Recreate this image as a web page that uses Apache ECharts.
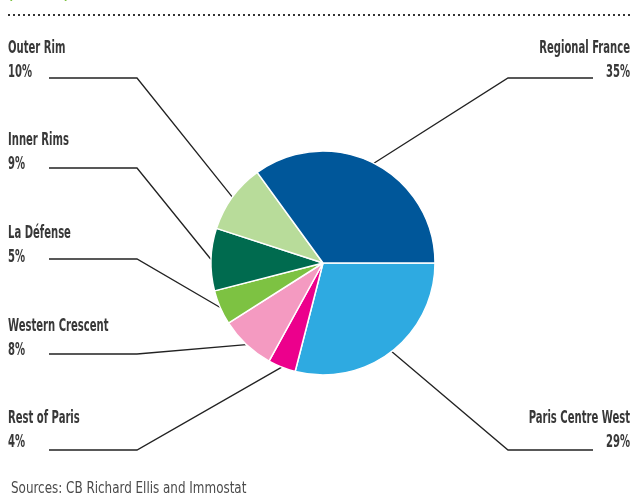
<!DOCTYPE html>
<html>
<head>
<meta charset="utf-8">
<script src="https://cdn.jsdelivr.net/npm/echarts@6/dist/echarts.min.js"></script>
<style>
  html, body { margin: 0; padding: 0; background: #fff; }
  #chart { width: 633px; height: 495px; }
</style>
</head>
<body>
<div id="chart"></div>
<script>
// Office take-up split by area (share of total, %)
const categories = ['Paris Centre West', 'Rest of Paris', 'Western Crescent', 'La Défense', 'Inner Rims', 'Outer Rim', 'Regional France'];
const shares = [29, 4, 8, 5, 9, 10, 35];
const sliceColors = ['#2eaae1', '#ec008c', '#f49ac1', '#7dc242', '#006b4f', '#b8dc9a', '#00579a'];
const sourceNote = 'Sources: CB Richard Ellis and Immostat';

// Where each label block sits and where its leader line bends / ends
const labelSpots = [
  { x: 630, y: 430, align: 'right', elbow: 508, end: 593, lineY: 450 },
  { x: 8,   y: 430, align: 'left',  elbow: 137, end: 49,  lineY: 450 },
  { x: 8,   y: 338, align: 'left',  elbow: 137, end: 49,  lineY: 354 },
  { x: 8,   y: 245, align: 'left',  elbow: 137, end: 49,  lineY: 259 },
  { x: 8,   y: 152, align: 'left',  elbow: 137, end: 49,  lineY: 168 },
  { x: 8,   y: 60,  align: 'left',  elbow: 137, end: 49,  lineY: 78 },
  { x: 630, y: 60,  align: 'right', elbow: 508, end: 593, lineY: 78 }
];

const FONT = "'DejaVu Sans Condensed', 'DejaVu Sans', sans-serif";
const LABEL_SQUEEZE = 0.62;   // horizontal squeeze for the tall, narrow label face

const chart = echarts.init(document.getElementById('chart'), null, { renderer: 'canvas' });

chart.setOption({
  animation: false,
  backgroundColor: '#ffffff',
  graphic: [
    {
      type: 'text', x: 8, y: -15, scaleX: 0.7, silent: true,
      style: { text: '(in value)', fill: '#7dc242', font: 'bold 18px ' + FONT, verticalAlign: 'top' }
    },
    {
      type: 'line', silent: true,
      shape: { x1: 8, y1: 15, x2: 631, y2: 15 },
      style: { stroke: '#333', lineWidth: 2, lineDash: [2, 3] }
    },
    {
      type: 'text', x: 11, y: 481, scaleX: 0.83, silent: true,
      style: { text: sourceNote, fill: '#4a4a4a', font: '16px ' + FONT, verticalAlign: 'top' }
    }
  ],
  series: [{
    type: 'pie',
    center: [323, 263],
    radius: 112,
    startAngle: 0,
    clockwise: true,
    avoidLabelOverlap: false,
    itemStyle: { borderColor: '#fff', borderWidth: 1.5 },
    label: {
      show: true,
      position: 'outside',
      formatter: '{b}\n{c}%',
      fontFamily: FONT,
      fontSize: 18,
      fontWeight: 'bold',
      lineHeight: 24,
      color: '#383838'
    },
    labelLine: {
      show: true,
      length: 20,
      length2: 20,
      lineStyle: { color: '#222', width: 1.3 }
    },
    labelLayout: function (p) {
      const s = labelSpots[p.dataIndex];
      const pts = p.labelLinePoints;
      const edge = pts ? [pts[0][0], pts[0][1]] : [s.elbow, s.lineY];
      return {
        x: s.x,
        y: s.y,
        align: s.align,
        verticalAlign: 'middle',
        labelLinePoints: [edge, [s.elbow, s.lineY], [s.end, s.lineY]]
      };
    },
    emphasis: { disabled: true },
    data: categories.map((name, i) => ({
      name: name,
      value: shares[i],
      itemStyle: { color: sliceColors[i] }
    }))
  }]
});

// Narrow the slice labels horizontally (anchor point stays fixed)
function squeezeLabels() {
  const zr = chart.getZr();
  const walk = function (el) {
    const t = el.getTextContent && el.getTextContent();
    if (t && t.style && typeof t.style.text === 'string' &&
        categories.some(c => t.style.text.indexOf(c) === 0)) {
      t.scaleX = LABEL_SQUEEZE;
      t.markRedraw();
    }
    if (el.isGroup) el.eachChild(walk);
  };
  zr.storage.getRoots().forEach(walk);
  zr.refreshImmediately();
}
squeezeLabels();
</script>
</body>
</html>
